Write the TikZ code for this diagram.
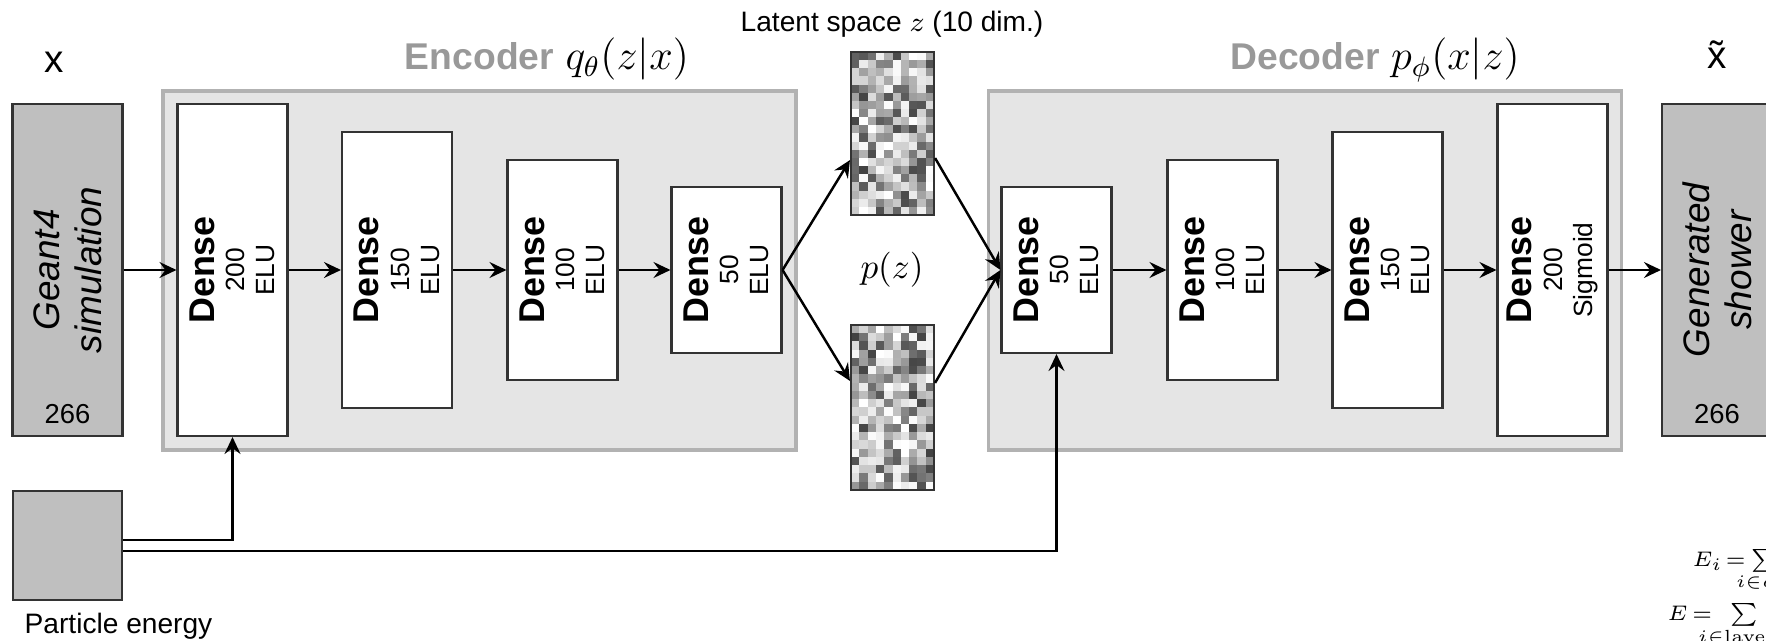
\documentclass[tikz,border=0pt]{standalone}
\usepackage[no-math]{fontspec}
\setmainfont{Liberation Sans}
\usepackage{amsmath}
\usetikzlibrary{arrows.meta, positioning}

\newcommand{\denselbl}[2]{{\fontsize{10.2}{11}\selectfont\bfseries Dense}\\#1\\#2}
\newcommand{\sumlbl}[1]{\makebox[0pt][l]{\hspace{-0.8em}$\scriptstyle #1$}}

\begin{document}
\begin{tikzpicture}[x=0.1mm, y=-0.1mm,
            layer/.style={draw=black!80, fill=white, line width=0.6pt, minimum width=1.1cm, inner sep=0pt},
            data/.style={draw=black!80, fill=black!25, line width=0.6pt, minimum width=1.1cm, minimum height=3.32cm, inner sep=0pt},
            stage/.style={draw=black!30, fill=black!10, line width=0.9pt, minimum width=6.33cm, minimum height=3.59cm},
            txt/.style={rotate=90, align=center, font=\fontsize{7.5}{8.6}\selectfont},
            title/.style={anchor=base, font=\fontsize{10.6}{12}\selectfont\bfseries, text=black!40},
            dist/.style={anchor=base west, inner sep=0pt, xshift=-0.15mm, font=\fontsize{12}{14}\selectfont},
            formula/.style={anchor=base west, inner sep=0pt, font=\fontsize{6.5}{7}\selectfont},
            pipe/.style={-{Stealth[length=1.7mm, width=1.6mm, inset=0.6mm]}, line width=0.7pt}]

            \useasboundingbox (0,0) rectangle (1766,641);

            % 底板
            \node[stage] (encbg) at (479.5,270.5) {};
            \node[stage] (decbg) at (1305,270.5) {};
            \node[title] (enclbl) at (479.5,70) {Encoder};
            \node[dist] (encq) at (enclbl.base east) {$q_\theta(z|x)$};
            \node[title] (declbl) at (1305,70) {Decoder};
            \node[dist] (decp) at (declbl.base east) {$p_\phi(x|z)$};

            % 输入
            \node[font=\fontsize{11}{12}\selectfont] (xin) at (54,62) {x};
            \node[data] (sim) at (67.5,270) {};
            \node[txt, font=\fontsize{10.5}{12}\selectfont\itshape] (simt) at (68,270) {Geant4\\simulation};
            \node[font=\fontsize{7.8}{9}\selectfont] (simn) at (67.5,414) {266};
            \node[data, minimum width=1.09cm, minimum height=1.09cm] (energy) at (67.5,545.5) {};
            \node[anchor=base, font=\fontsize{8}{9}\selectfont] (energylbl) at (118.5,633) {Particle energy};

            % 编码器
            \node[layer, minimum height=3.32cm] (enc1) at (232.5,270) {};
            \node[layer, minimum height=2.76cm] (enc2) at (397,270) {};
            \node[layer, minimum height=2.20cm] (enc3) at (562.5,270) {};
            \node[layer, minimum height=1.66cm] (enc4) at (726.5,270) {};
            \node[txt] (enc1t) at (enc1) {\denselbl{200}{ELU}};
            \node[txt] (enc2t) at (enc2) {\denselbl{150}{ELU}};
            \node[txt] (enc3t) at (enc3) {\denselbl{100}{ELU}};
            \node[txt] (enc4t) at (enc4) {\denselbl{50}{ELU}};

            % 隐空间
            \pgfmathsetseed{4217}
            \foreach \col in {0,...,9} {
                \foreach \row in {0,...,19} {
                    \pgfmathsetmacro{\ga}{int(75*rnd^1.5)}
                    \pgfmathsetmacro{\gb}{int(75*rnd^1.5)}
                    \fill[black!\ga] (851+\col*8.3,52+\row*8.15) rectangle ++(8.3,8.15);
                    \fill[black!\gb] (851+\col*8.3,325+\row*8.25) rectangle ++(8.3,8.25);
                }
            }
            \node[draw=black!80, line width=0.6pt, minimum width=0.83cm, minimum height=1.63cm, inner sep=0pt] (latA) at (892.5,133.5) {};
            \node[draw=black!80, line width=0.6pt, minimum width=0.83cm, minimum height=1.65cm, inner sep=0pt] (latB) at (892.5,407.5) {};
            \node[anchor=base, font=\fontsize{8}{9}\selectfont] (lattitle) at (892,32) {Latent space $z$ (10 dim.)};
            \node[font=\fontsize{10}{11}\selectfont] (prior) at (892,270) {$p(z)$};

            % 解码器
            \node[layer, minimum height=1.66cm] (dec1) at (1056.5,270) {};
            \node[layer, minimum height=2.20cm] (dec2) at (1222.5,270) {};
            \node[layer, minimum height=2.76cm] (dec3) at (1387.5,270) {};
            \node[layer, minimum height=3.32cm] (dec4) at (1552.5,270) {};
            \node[txt] (dec1t) at (dec1) {\denselbl{50}{ELU}};
            \node[txt] (dec2t) at (dec2) {\denselbl{100}{ELU}};
            \node[txt] (dec3t) at (dec3) {\denselbl{150}{ELU}};
            \node[txt] (dec4t) at (dec4) {\denselbl{200}{Sigmoid}};

            % 输出
            \node[font=\fontsize{11}{12}\selectfont] (xout) at (1717,55) {\~{x}};
            \node[data] (gen) at (1717,270) {};
            \node[txt, font=\fontsize{10.5}{12}\selectfont\itshape] (gent) at (1717,270) {Generated\\shower};
            \node[font=\fontsize{7.8}{9}\selectfont] (genn) at (1717,414) {266};

            % 公式
            \node[formula] (eqa) at (1692,566) {$E_i\mskip2mu{=}\mskip1mu\sum\limits_{\sumlbl{i\in c}}$};
            \node[formula] (eqb) at (1667,620) {$E\mskip3mu{=}\mskip9mu\sum\limits_{\sumlbl{i\in \mathrm{layers}}}$};

            % 连接
            \draw[pipe] (sim.east) -- (enc1.west);
            \draw[pipe] (enc1.east) -- (enc2.west);
            \draw[pipe] (enc2.east) -- (enc3.west);
            \draw[pipe] (enc3.east) -- (enc4.west);
            \draw[pipe] (enc4.east) -- (latA.212);
            \draw[pipe] (enc4.east) -- (latB.148);
            \draw[pipe] (latA.-30) -- (dec1.west);
            \draw[pipe] (latB.30) -- (dec1.west);
            \draw[pipe] (dec1.east) -- (dec2.west);
            \draw[pipe] (dec2.east) -- (dec3.west);
            \draw[pipe] (dec3.east) -- (dec4.west);
            \draw[pipe] (dec4.east) -- (gen.west);
            \draw[pipe] ([yshift=0.55mm]energy.east) -| (enc1.south);
            \draw[pipe] ([yshift=-0.55mm]energy.east) -| (dec1.south);
\end{tikzpicture}
\end{document}
